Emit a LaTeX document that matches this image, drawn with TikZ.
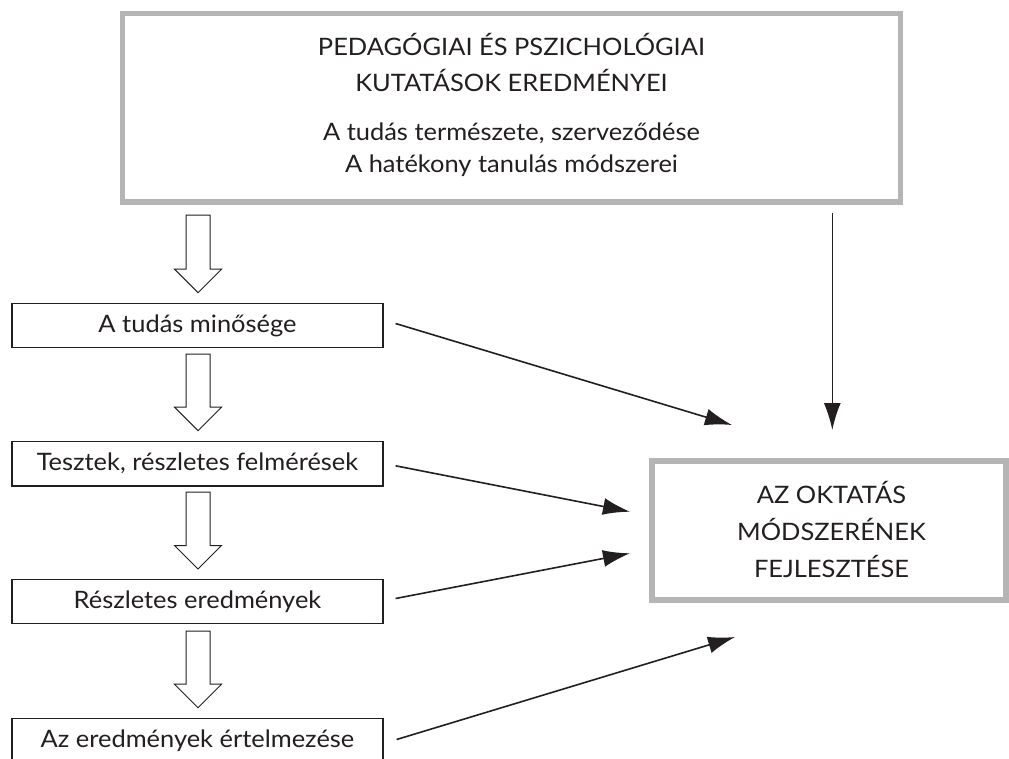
\documentclass[tikz,border=0pt]{standalone}
\usepackage{fontspec}
\setmainfont{Lato}[FakeStretch=1.06]
\usetikzlibrary{arrows.meta,calc}
\definecolor{ink}{HTML}{231F20}
\definecolor{frame}{HTML}{B5B5B5}
\tikzset{
  graybox/.style={draw=frame,line width=5.5pt,fill=none,inner sep=0pt},
  smallbox/.style={draw=ink,line width=1.2pt,minimum width=371pt,minimum height=44.5pt,inner sep=0pt,
     text height=17pt,text depth=3pt,font=\fontsize{24}{28}\selectfont,text=ink},
  txt/.style={inner sep=0pt,anchor=base,font=\fontsize{24}{28}\selectfont,text=ink},
  conn/.style={draw=ink,line width=1.6pt,-{Latex[length=27pt,width=17pt]}},
  hollow/.style={draw=ink,line width=1pt,fill=white,line join=miter}
}
\newcommand\hollowarrow[2]{%
  \draw[hollow] (186,#1) -- (210,#1) -- (210,#2-23.5) -- (221.5,#2-23.5) -- (198,#2)
     -- (174.5,#2-23.5) -- (186,#2-23.5) -- cycle;}
\begin{document}
\begin{tikzpicture}[x=1pt,y=-1pt]
\useasboundingbox (0,0) rectangle (1009,758);
\clip (0,0) rectangle (1009,758);
\fill[white] (0,0) rectangle (1009,758);
% top box
\node[graybox,minimum width=778pt,minimum height=188.5pt] (top) at (511.5,107.75) {};
\node[txt] (t1) at (511.5,55.5) {PEDAGÓGIAI ÉS PSZICHOLÓGIAI};
\node[txt] (t2) at (511.5,91.5) {KUTATÁSOK EREDMÉNYEI};
\node[txt] (t3) at (511.5,140) {A tudás természete, szerveződése};
\node[txt] (t4) at (511.5,172.5) {A hatékony tanulás módszerei};
% right box
\node[graybox,minimum width=354pt,minimum height=139pt] (res) at (829,530.5) {};
\node[txt] (r1) at (831.5,503.5) {AZ OKTATÁS};
\node[txt] (r2) at (831.5,540.5) {MÓDSZERÉNEK};
\node[txt] (r3) at (831.5,577) {FEJLESZTÉSE};
% small boxes
\node[smallbox] (b1) at (197.5,325.5) {A tudás minősége};
\node[smallbox] (b2) at (197.5,463.8) {Tesztek, részletes felmérések};
\node[smallbox] (b3) at (197.5,601.5) {Részletes eredmények};
\node[smallbox] (b4) at (197.5,740.5) {Az eredmények értelmezése};
% hollow arrows
\hollowarrow{215}{292.7}
\hollowarrow{354}{430.7}
\hollowarrow{492}{569}
\hollowarrow{631}{707.7}
% connectors
\coordinate (e1) at (732,425);
\coordinate (e2) at (630,511.7);
\coordinate (e3) at (630,553.3);
\coordinate (e4) at (735,637);
\coordinate (vs) at (832.3,213.3);
\coordinate (ve) at (832.3,430);
\draw[conn] ($(b1.east)+(12,-2)$) -- (e1);
\draw[conn] ($(b2.east)+(12,2)$) -- (e2);
\draw[conn] ($(b3.east)+(12,-3)$) -- (e3);
\draw[conn] ($(b4.east)+(13,-1)$) -- (e4);
\draw[conn] (vs) -- (ve);
\end{tikzpicture}
\end{document}
